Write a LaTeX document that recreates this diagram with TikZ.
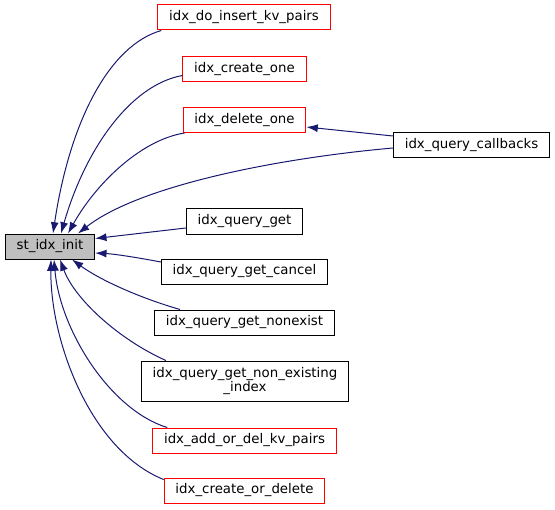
\documentclass[tikz,border=0pt]{standalone}
\usepackage{fontspec}
\setmainfont{DejaVu Sans}
\usetikzlibrary{arrows.meta,calc,positioning}
\definecolor{callblue}{RGB}{25,25,112}
\definecolor{rootgray}{RGB}{191,191,191}

\begin{document}
\begin{tikzpicture}[x=0.75pt, y=-0.75pt,
    fn/.style={draw=black, line width=0.75pt, rectangle, inner xsep=8.5pt, inner ysep=0pt,
        minimum height=18.75pt, font=\fontsize{10}{10}\selectfont},
    fnred/.style={fn, draw=red},
    fnroot/.style={fn, fill=rootgray},
    callline/.style={callblue, line width=0.75pt, -{Latex[length=8.5pt, width=6pt]}}]

\useasboundingbox (0,0) rectangle (555,509);

% ==================== NODES ====================

% root function
\node[fnroot] (st) at (50,246.5) {st\_idx\_init};

% callers
\node[fnred] (doinsert) at (244,17.5) {idx\_do\_insert\_kv\_pairs};
\node[fnred] (createone) at (244.5,69.5) {idx\_create\_one};
\node[fnred] (deleteone) at (244.5,120) {idx\_delete\_one};
\node[fn] (callbacks) at (471.5,145) {idx\_query\_callbacks};
\node[fn] (queryget) at (244.5,221.5) {idx\_query\_get};
\node[fn] (getcancel) at (244.5,271.5) {idx\_query\_get\_cancel};
\node[fn] (nonexist) at (244.5,322.5) {idx\_query\_get\_nonexist};
\node[fn, align=center, minimum height=30pt] (nonexisting) at (245,381)
    {idx\_query\_get\_non\_existing\\\_index};
\node[fnred] (addordel) at (244.5,440.5) {idx\_add\_or\_del\_kv\_pairs};
\node[fnred] (createordelete) at (244.5,490.5) {idx\_create\_or\_delete};

% ==================== CALLS (upper half) ====================

\draw[callline] ($(doinsert.south west)+(4,0)$)
    .. controls (110,45) and (70,120) .. ($(st.north)+(3,0)$);
\draw[callline] ($(createone.west)+(0,6)$)
    .. controls (130,85) and (85,150) .. ($(st.north)+(11,0)$);
\draw[callline] ($(deleteone.south west)+(2,0)$)
    .. controls (140,140) and (95,185) .. ($(st.north)+(18,0)$);
\draw[callline] ($(callbacks.west)+(0,3)$)
    .. controls (280,158) and (140,185) .. ($(st.north)+(28,0)$);
\draw[callline] ($(callbacks.west)+(0,-9)$) -- ($(deleteone.east)+(0,7)$);

% ==================== CALLS (right side) ====================

\draw[callline] ($(queryget.west)+(0,6.5)$) -- ($(st.east)+(0,-8)$);
\draw[callline] ($(getcancel.west)+(0,-9.5)$)
    .. controls (140,258) and (115,254) .. ($(st.east)+(0,6.5)$);

% ==================== CALLS (lower half) ====================

\draw[callline] ($(nonexist.north west)+(26,0)$)
    .. controls (140,298) and (100,280) .. ($(st.south)+(22,0)$);
\draw[callline] ($(nonexisting.north west)+(25,0)$)
    .. controls (120,340) and (75,300) .. ($(st.south)+(10,0)$);
\draw[callline] ($(addordel.north west)+(15,0)$)
    .. controls (110,410) and (60,330) .. ($(st.south)+(4,0)$);
\draw[callline] ($(createordelete.north west)+(0,2)$)
    .. controls (90,450) and (50,340) .. ($(st.south)+(1,0)$);

\end{tikzpicture}
\end{document}
